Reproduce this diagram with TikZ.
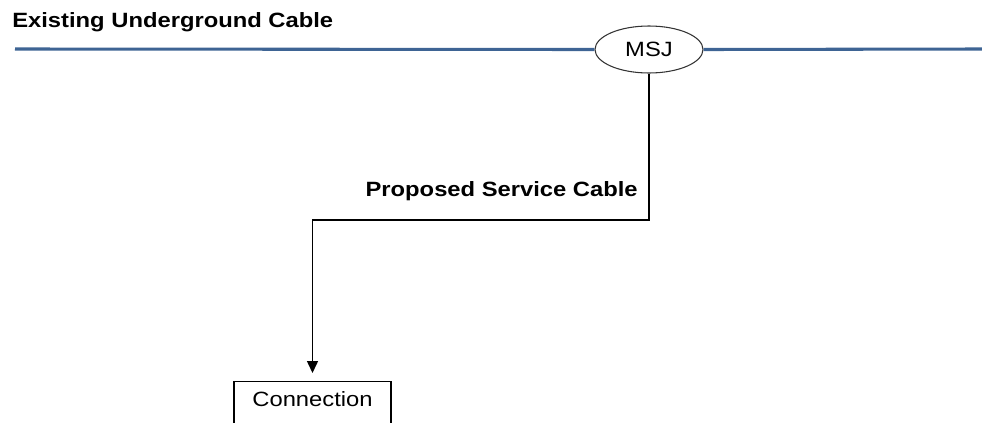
\documentclass[tikz,border=0pt]{standalone}
\usepackage{fontspec}
\setmainfont{Liberation Sans}
\usetikzlibrary{shapes.geometric,arrows.meta}
\definecolor{cableblue}{RGB}{62,100,148}

\begin{document}
\begin{tikzpicture}[x=0.75pt,y=-0.75pt,
  lbl/.style={font=\fontsize{15.5}{18}\selectfont,xscale=1.15,inner sep=0},
  feed/.style={black,line width=1.1pt}]
\useasboundingbox (0,0) rectangle (982,422);
% main cable with the joint on it
\node[lbl,font=\fontsize{15.5}{18}\selectfont\bfseries,anchor=base west] (title) at (12,27.3) {Existing Underground Cable};
\node[ellipse,draw=black!80,line width=0.8pt,minimum width=108*0.75pt,minimum height=47*0.75pt,inner sep=0] (msj) at (649,49.5) {};
\node[lbl] (msjtext) at (msj.center) {MSJ};
\draw[cableblue,line width=2.3pt] (15,49) -- (msj.west);
\draw[cableblue,line width=2.3pt] (msj.east) -- (982,49);
% service cable down to the connection box
\node[lbl,font=\fontsize{15.5}{18}\selectfont\bfseries,anchor=base east] (service) at (638,196.7) {Proposed Service Cable};
\node[draw=black,line width=1.1pt,anchor=north,minimum width=157*0.75pt,
  inner xsep=0,inner ysep=10.5*0.75pt,text height=14.5*0.75pt,text depth=40*0.75pt,
  font=\fontsize{15.5}{18}\selectfont] (conn) at (312.5,381) {\scalebox{1.15}[1]{Connection}};
\coordinate (bend1) at (msj.south |- 0,220);
\coordinate (bend2) at (conn.north |- 0,220);
\draw[feed,-{Triangle[length=12*0.75pt,width=11*0.75pt]},shorten >=8*0.75pt] (msj.south) -- (bend1) -- (bend2) -- (conn.north);
\end{tikzpicture}
\end{document}
